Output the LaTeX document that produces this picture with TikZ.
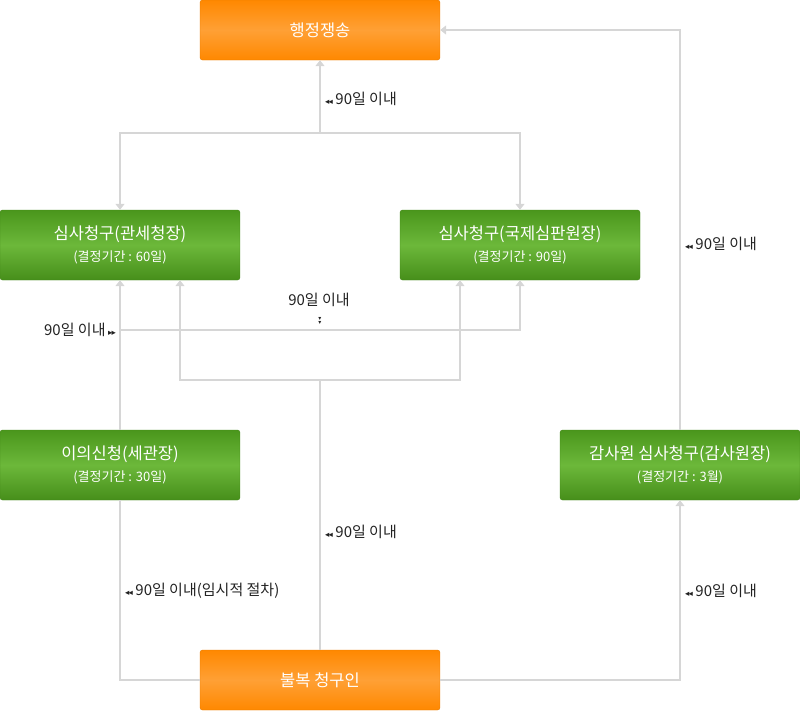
\documentclass[tikz,border=0pt]{standalone}
\usepackage{fontspec}
\setmainfont{Noto Sans CJK KR}
\newfontfamily\dejavu{DejaVu Sans}
\usetikzlibrary{arrows.meta,calc}
\definecolor{linegray}{HTML}{D6D6D6}
\definecolor{txtgray}{HTML}{222222}
\definecolor{orA}{HTML}{FF8800}
\definecolor{orB}{HTML}{FFA035}
\definecolor{grA}{HTML}{4A961C}
\definecolor{grB}{HTML}{6CB83A}
\newcommand{\lmk}{{\dejavu\fontsize{8.5}{8}\selectfont ◂\kern-0.8pt◂}}
\newcommand{\rmk}{{\dejavu\fontsize{8.5}{8}\selectfont ▸\kern-0.8pt▸}}
\begin{document}
\begin{tikzpicture}[x=1pt,y=-1pt,
  orbox/.style={rectangle, rounded corners=2.5pt, minimum width=240pt, minimum height=60pt,
    top color=orA, bottom color=orA, middle color=orB, draw=orA!90!black, line width=0.4pt,
    text=white, font=\fontsize{16.5}{18}\selectfont, inner sep=0pt},
  grbox/.style={rectangle, rounded corners=2.5pt, minimum width=240pt, minimum height=70pt,
    top color=grA, bottom color=grA!95!black, middle color=grB, draw=grA!90!black, line width=0.4pt,
    text=white, font=\fontsize{16.5}{20}\selectfont, align=center, inner sep=0pt},
  conn/.style={draw=linegray, line width=2pt},
  arr/.style={conn, -{Triangle[width=9pt,length=6pt]}},
  lbl/.style={text=txtgray, font=\fontsize{15}{17}\selectfont, inner sep=0pt},
  tinymark/.style={text=txtgray, font=\dejavu\fontsize{6}{3.5}\selectfont, inner sep=0pt, align=center}
]
\useasboundingbox (0,0) rectangle (800,710);

% boxes
\node[orbox] (haeng) at (320,30) {행정쟁송};
\node[grbox] (gwan) at (120,245) {심사청구(관세청장)\\[2pt]{\fontsize{13}{14}\selectfont (결정기간 : 60일)}};
\node[grbox] (gukje) at (520,245) {심사청구(국제심판원장)\\[2pt]{\fontsize{13}{14}\selectfont (결정기간 : 90일)}};
\node[grbox] (eui) at (120,465) {이의신청(세관장)\\[2pt]{\fontsize{13}{14}\selectfont (결정기간 : 30일)}};
\node[grbox] (gamsa) at (680,465) {감사원 심사청구(감사원장)\\[2pt]{\fontsize{13}{14}\selectfont (결정기간 : 3월)}};
\node[orbox] (bul) at (320,680) {불복 청구인};

% junction coordinates
\coordinate (j1) at (320,133);
\coordinate (j2) at (120,330);
\coordinate (j3) at (320,380);
\coordinate (ga) at ($(gwan.south)+(60,0)$);
\coordinate (gb) at ($(gukje.south)+(-60,0)$);

% connectors
\draw[arr] (j1) -- (haeng.south);
\draw[arr] (j1) -| (gwan.north);
\draw[arr] (j1) -| (gukje.north);
\draw[arr] (eui.north) -- (gwan.south);
\draw[arr] (j2) -| (gukje.south);
\draw[conn] (bul.north) -- (j3);
\draw[arr] (j3) -| (ga);
\draw[arr] (j3) -| (gb);
\draw[conn] (bul.west) -| (eui.south);
\draw[arr] (bul.east) -| (gamsa.south);
\draw[arr] (gamsa.north) |- (haeng.east);

% labels
\node[lbl, anchor=west] (l1) at (325,99) {\lmk\,90일 이내};
\node[lbl] (l2) at (319,300) {90일 이내};
\node[tinymark] (l2m) at (320,321) {▾\\▾};
\node[lbl, anchor=east] (l3) at (116,330) {90일 이내\,\rmk};
\node[lbl, anchor=west] (l4) at (325,532) {\lmk\,90일 이내};
\node[lbl, anchor=west] (l5) at (125,591) {\lmk\,90일 이내(임시적 절차)};
\node[lbl, anchor=west] (l6) at (685,591) {\lmk\,90일 이내};
\node[lbl, anchor=west] (l7) at (685,244) {\lmk\,90일 이내};
\end{tikzpicture}
\end{document}
